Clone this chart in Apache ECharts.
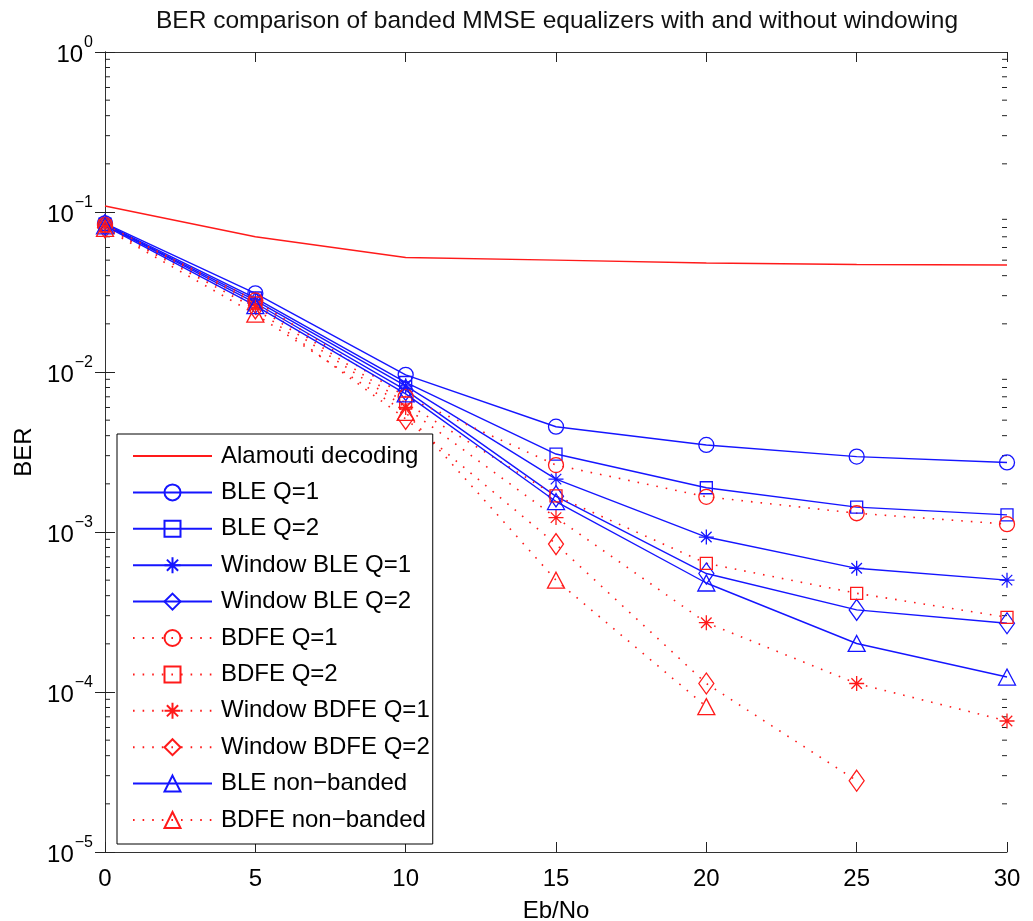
<!DOCTYPE html>
<html>
<head>
<meta charset="utf-8">
<script src="https://cdn.jsdelivr.net/npm/echarts@6/dist/echarts.min.js"></script>
<style>
  html, body { margin: 0; padding: 0; background: #fff; }
  #chart { width: 1033px; height: 921px; }
</style>
</head>
<body>
<div id="chart"></div>
<script>
// Eb/No waarden
const ebno = [0, 5, 10, 15, 20, 25, 30];

// BER per ontvanger
const alamouti = [0.109, 0.070, 0.052, 0.050, 0.048, 0.047, 0.0466];
const bleQ1 = [0.085, 0.031, 0.0096, 0.00455, 0.0035, 0.00296, 0.00272];
const bleQ2 = [0.084, 0.029, 0.0086, 0.00307, 0.00189, 0.00143, 0.00128];
const winBleQ1 = [0.083, 0.028, 0.0082, 0.00214, 0.00093, 0.000593, 0.0005];
const winBleQ2 = [0.083, 0.027, 0.0077, 0.00167, 0.00055, 0.000326, 0.000269];
const bdfeQ1 = [0.083, 0.028, 0.0070, 0.00262, 0.00166, 0.00131, 0.00112];
const bdfeQ2 = [0.082, 0.027, 0.0064, 0.00168, 0.000637, 0.000414, 0.000293];
const winBdfeQ1 = [0.081, 0.026, 0.0060, 0.00123, 0.000271, 0.000113, 0.0000659];
const winBdfeQ2 = [0.080, 0.025, 0.0051, 0.00084, 0.000113, 0.0000279, null];
const bleNonBanded = [0.082, 0.026, 0.0073, 0.00155, 0.00048, 0.000201, 0.000124];
const bdfeNonBanded = [0.079, 0.023, 0.0056, 0.0005, 0.000081, null, null];

// As-labels
const decadeLabels = { '1': '0', '0.1': '1', '0.01': '2', '0.001': '3', '0.0001': '4', '0.00001': '5' };
const minorTicks = [];
for (let e = -5; e < 0; e++) {
    for (let m = 2; m <= 9; m++) minorTicks.push(m * Math.pow(10, e));
}

const BLUE = '#1515ff';
const RED = '#ff1a1a';
const STAR = 'path://M10,0L10,20M0,10L20,10M3,3L17,17M3,17L17,3';
const FONT = 'Liberation Sans';

function pair(values) {
    return ebno.map((x, i) => [x, values[i]]);
}

function curve(name, values, color, symbol, size, dotted) {
    return {
        name: name,
        type: 'line',
        data: pair(values),
        symbol: symbol,
        symbolSize: size,
        clip: false,
        connectNulls: false,
        lineStyle: { color: color, width: dotted ? 1.6 : 1.4, type: dotted ? [1.6, 8] : 'solid' },
        itemStyle: { color: 'rgba(255,255,255,0)', borderColor: color, borderWidth: 1.3 },
        emphasis: { disabled: true },
        z: 3
    };
}

let chart = echarts.init(document.getElementById('chart'));

let option = {
    animation: false,
    backgroundColor: '#fff',
    title: {
        text: 'BER comparison of banded MMSE equalizers with and without windowing',
        left: 557,
        textAlign: 'center',
        top: 9,
        padding: 0,
        textStyle: { fontFamily: FONT, fontSize: 24.5, fontWeight: 'normal', color: '#111' }
    },
    grid: { left: 105, top: 52, right: 26, bottom: 69, containLabel: false, outerBoundsMode: 'none' },
    legend: {
        orient: 'vertical',
        left: 117,
        top: 434,
        padding: [9, 3, 11, 15],
        itemWidth: 79,
        itemHeight: 20,
        itemGap: 10.4,
        backgroundColor: '#fff',
        borderColor: '#000',
        borderWidth: 1,
        borderRadius: 0,
        selectedMode: false,
        textStyle: { fontFamily: FONT, fontSize: 24, color: '#000', lineHeight: 26, padding: [0, 0, 0, 4] },
        data: ['Alamouti decoding', 'BLE Q=1', 'BLE Q=2', 'Window BLE Q=1', 'Window BLE Q=2',
            'BDFE Q=1', 'BDFE Q=2', 'Window BDFE Q=1', 'Window BDFE Q=2', 'BLE non−banded', 'BDFE non−banded']
    },
    xAxis: [{
        type: 'value',
        min: 0,
        max: 30,
        interval: 5,
        position: 'bottom',
        name: 'Eb/No',
        nameLocation: 'middle',
        nameGap: 47,
        nameTextStyle: { fontFamily: FONT, fontSize: 24, color: '#000' },
        axisLine: { lineStyle: { color: '#333', width: 1 } },
        axisTick: { inside: true, length: 10, lineStyle: { color: '#222' } },
        axisLabel: { fontFamily: FONT, fontSize: 24, color: '#000', margin: 15 },
        splitLine: { show: false }
    }, {
        type: 'value',
        min: 0,
        max: 30,
        interval: 5,
        position: 'top',
        axisLine: { lineStyle: { color: '#333', width: 1 } },
        axisTick: { inside: true, length: 10, lineStyle: { color: '#222' } },
        axisLabel: { show: false },
        splitLine: { show: false }
    }],
    yAxis: [{
        type: 'log',
        logBase: 10,
        min: 1e-5,
        max: 1,
        position: 'left',
        name: 'BER',
        nameLocation: 'middle',
        nameGap: 53,
        nameTextStyle: { fontFamily: FONT, fontSize: 24, color: '#000' },
        axisLine: { show: true, lineStyle: { color: '#333', width: 1 } },
        axisTick: { inside: true, length: 10, lineStyle: { color: '#222' } },
        axisLabel: {
            margin: 12,
            formatter: function (v) {
                const key = String(Number(v.toPrecision(6)));
                const e = decadeLabels[key];
                return e === undefined ? '' : (e === '0' ? '{b|10}{s|0}' : '{b|10}{s|−' + e + '}');
            },
            rich: {
                b: { fontFamily: FONT, fontSize: 24, color: '#000', padding: [6, 0, 0, 0] },
                s: { fontFamily: FONT, fontSize: 16, color: '#000', padding: [0, 0, 18, 1] }
            }
        },
        splitLine: { show: false }
    }, {
        type: 'log',
        logBase: 10,
        min: 1e-5,
        max: 1,
        position: 'right',
        axisLine: { show: true, lineStyle: { color: '#333', width: 1 } },
        axisTick: { inside: true, length: 10, lineStyle: { color: '#222' } },
        axisLabel: { show: false },
        splitLine: { show: false }
    }],
    series: [
        {
            name: 'Alamouti decoding',
            type: 'line',
            data: pair(alamouti),
            symbol: 'none',
            clip: false,
            lineStyle: { color: RED, width: 1.4 },
            itemStyle: { color: 'rgba(255,0,0,0)', borderWidth: 0 },
            emphasis: { disabled: true },
            z: 3
        },
        curve('BLE Q=1', bleQ1, BLUE, 'circle', 15, false),
        curve('BLE Q=2', bleQ2, BLUE, 'rect', 12, false),
        curve('Window BLE Q=1', winBleQ1, BLUE, STAR, 15, false),
        curve('Window BLE Q=2', winBleQ2, BLUE, 'diamond', [15, 21], false),
        curve('BDFE Q=1', bdfeQ1, RED, 'circle', 15, true),
        curve('BDFE Q=2', bdfeQ2, RED, 'rect', 12, true),
        curve('Window BDFE Q=1', winBdfeQ1, RED, STAR, 15, true),
        curve('Window BDFE Q=2', winBdfeQ2, RED, 'diamond', [15, 21], true),
        curve('BLE non−banded', bleNonBanded, BLUE, 'triangle', [17, 16], false),
        curve('BDFE non−banded', bdfeNonBanded, RED, 'triangle', [17, 16], true),
        {
            // kleine maatstreepjes tussen de decaden, links en rechts
            type: 'custom',
            silent: true,
            z: 2,
            clip: false,
            data: minorTicks.map(v => [0, v]),
            renderItem: function (params, api) {
                const v = api.value(1);
                const l = api.coord([0, v]);
                const r = api.coord([30, v]);
                return {
                    type: 'group',
                    children: [
                        { type: 'line', shape: { x1: l[0], y1: l[1], x2: l[0] + 5, y2: l[1] }, style: { stroke: '#222', lineWidth: 1 } },
                        { type: 'line', shape: { x1: r[0] - 5, y1: r[1], x2: r[0], y2: r[1] }, style: { stroke: '#222', lineWidth: 1 } }
                    ]
                };
            }
        }
    ]
};

chart.setOption(option);
</script>
</body>
</html>
